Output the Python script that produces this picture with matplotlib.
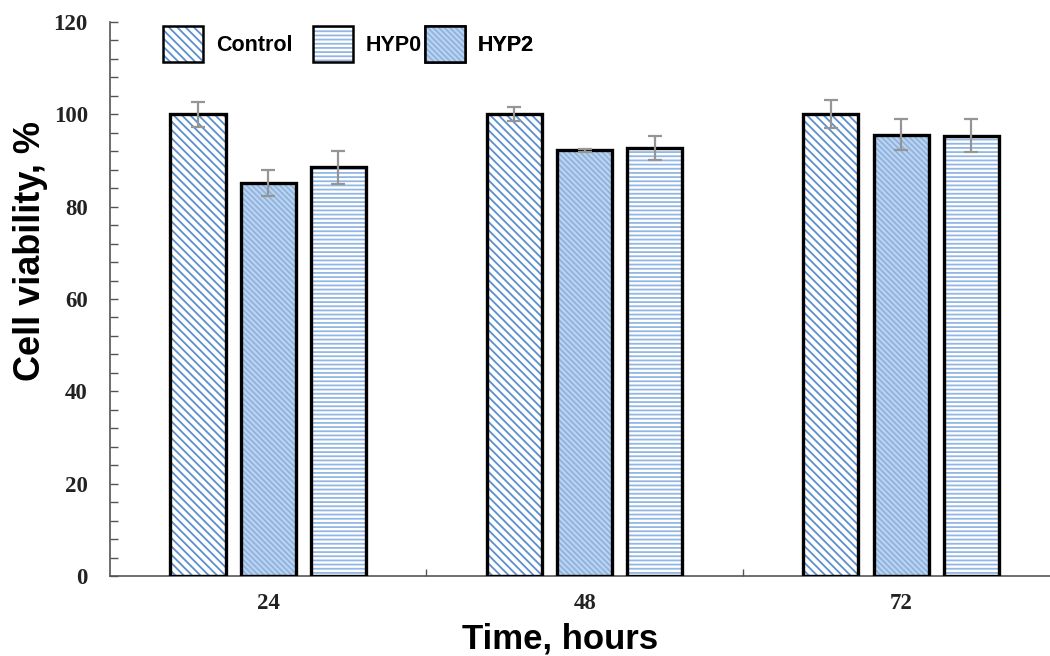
import numpy as np
import matplotlib
matplotlib.use("Agg")
import matplotlib.pyplot as plt
from matplotlib.patches import Patch
from matplotlib.ticker import MultipleLocator, FixedLocator

# ---------------------------------------------------------------
# Data (cell viability, %)
# ---------------------------------------------------------------
hours = ["24", "48", "72"]
control = [100.0, 100.0, 100.0]
control_err = [2.7, 1.5, 3.0]
hyp2 = [85.2, 92.2, 95.6]
hyp2_err = [2.8, 0.3, 3.4]
hyp0 = [88.5, 92.6, 95.4]
hyp0_err = [3.6, 2.6, 3.6]

plt.rcParams['hatch.linewidth'] = 1.3

fig = plt.figure(figsize=(10.5, 6.56), dpi=100)
ax = fig.add_axes([0.1048, 0.122, 0.904, 0.8445])

x = np.arange(len(hours))
w = 0.174   # bar width
step = 0.222  # distance between bar centres

# (values, errors, face colour, hatch colour, hatch) in drawing order
series = [
    (control, control_err, "white", "#5b8fcc", "\\" * 4),
    (hyp2, hyp2_err, "#bcd4f0", "#8fb3e0", "\\" * 6),
    (hyp0, hyp0_err, "white", "#93b7e4", "----"),
]

handles = []
for i, (vals, err, face, hcol, hatch) in enumerate(series):
    pos = x + (i - 1) * step
    # hatched fill (edge colour only used for the hatch lines)
    ax.bar(pos, vals, w, color=face, edgecolor=hcol, hatch=hatch,
           linewidth=0, zorder=2)
    # black outline + error bars
    ax.bar(pos, vals, w, fill=False, edgecolor="black", linewidth=2.4,
           zorder=3)
    ax.errorbar(pos, vals, yerr=err, fmt="none", ecolor="#959595",
                elinewidth=1.6, capsize=5, capthick=1.6, zorder=4)
    hp = Patch(facecolor=face, edgecolor=hcol, hatch=hatch, linewidth=0)
    op = Patch(fill=False, edgecolor="black", linewidth=1.8)
    handles.append((hp, op))

# legend order: Control, HYP0, HYP2 -- one small legend per entry
leg_items = [(handles[0], "Control", 163), (handles[2], "HYP0", 313),
             (handles[1], "HYP2", 425)]
for h, name, px in leg_items:
    lg = ax.legend([h], [name], loc="upper left",
                   bbox_to_anchor=(px / 1050, 1 - 26 / 656),
                   bbox_transform=fig.transFigure, frameon=False,
                   borderpad=0, borderaxespad=0,
                   handlelength=1.86, handleheight=2.17, handletextpad=0.6,
                   prop={"family": "Liberation Sans", "weight": "bold",
                         "size": 15.5})
    ax.add_artist(lg)

ax.set_xlim(-0.5, 2.5)
ax.set_ylim(0, 120)
ax.set_xticks(x)
ax.set_xticklabels(hours)
ax.xaxis.set_minor_locator(FixedLocator([0.5, 1.5]))
ax.yaxis.set_major_locator(MultipleLocator(20))
ax.yaxis.set_minor_locator(MultipleLocator(4))

ax.tick_params(axis="y", which="both", direction="in", length=6,
               width=1, color="#555555", pad=16)
ax.tick_params(axis="x", which="both", direction="in", length=5,
               width=1, color="#555555", pad=12)
for lab in ax.get_xticklabels() + ax.get_yticklabels():
    lab.set_family("Liberation Serif")
    lab.set_weight("bold")
    lab.set_fontsize(16.5)
    lab.set_color("#222222")

for s in ["top", "right"]:
    ax.spines[s].set_visible(False)
for s in ["left", "bottom"]:
    ax.spines[s].set_color("#555555")
    ax.spines[s].set_linewidth(1.2)

fig.text(0.029, 0.617, "Cell viability, %", rotation=90, ha="center",
         va="center", fontsize=26, fontweight="bold",
         family="Liberation Sans")
fig.text(0.533, 0.012, "Time, hours", ha="center", va="baseline",
         fontsize=25, fontweight="bold", family="Liberation Sans")

fig.savefig("out.png", dpi=100)
